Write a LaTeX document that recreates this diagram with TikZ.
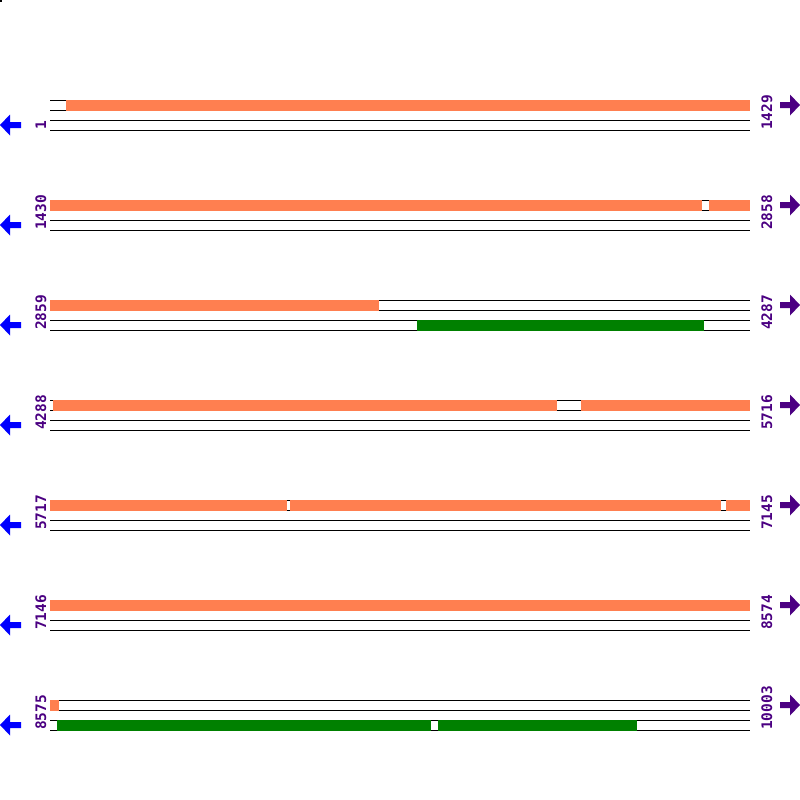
\documentclass[tikz,border=0pt]{standalone}
\usepackage{fontspec}
\setmonofont{DejaVu Sans Mono}
\definecolor{featorange}{HTML}{FF7F50}
\definecolor{featgreen}{HTML}{008000}
\definecolor{numpurple}{HTML}{4B0082}
\definecolor{revblue}{HTML}{0000FF}
\tikzset{
  coordlabel/.style={rotate=90,anchor=base west,inner sep=0pt,text=numpurple,
    font=\ttfamily\bfseries\fontsize{14.5}{15}\selectfont},
  strand/.style={line width=1pt,black}
}
\begin{document}
\begin{tikzpicture}[x=1pt,y=-1pt]
\useasboundingbox (0,0) rectangle (800,800);
\fill[white] (0,0) rectangle (800,800);
\fill[black] (0,0) rectangle (2,2);

% the seven rows of the map
\foreach \y/\from/\to [count=\i] in {100/1/1429,200/1430/2858,300/2859/4287,400/4288/5716,500/5717/7145,600/7146/8574,700/8575/10003}{
  \draw[strand] (50,\y) -- (750,\y);
  \draw[strand] (50,\y+10) -- (750,\y+10);
  \draw[strand] (50,\y+20) -- (750,\y+20);
  \draw[strand] (50,\y+30) -- (750,\y+30);
  \node[coordlabel] (start\i) at (46,\y+30) {\from};
  \node[coordlabel] (end\i) at (772,\y+30) {\to};
  \fill[revblue] (0,\y+25) -- (10,\y+14.5) -- (10,\y+22) -- (21,\y+22)
    -- (21,\y+28) -- (10,\y+28) -- (10,\y+35.5) -- cycle;
  \fill[numpurple] (800,\y+5) -- (790,\y-5.5) -- (790,\y+2) -- (780,\y+2)
    -- (780,\y+8) -- (790,\y+8) -- (790,\y+15.5) -- cycle;
}

% forward features
\fill[featorange] (66,99.5) rectangle (750,110.5);
\fill[featorange] (50,199.5) rectangle (702,210.5);
\fill[featorange] (709,199.5) rectangle (750,210.5);
\fill[featorange] (50,299.5) rectangle (379,310.5);
\fill[featorange] (53,399.5) rectangle (557,410.5);
\fill[featorange] (581,399.5) rectangle (750,410.5);
\fill[featorange] (50,499.5) rectangle (287,510.5);
\fill[featorange] (290,499.5) rectangle (721,510.5);
\fill[featorange] (726,499.5) rectangle (750,510.5);
\fill[featorange] (50,599.5) rectangle (750,610.5);
\fill[featorange] (50,699.5) rectangle (59,710.5);

% reverse features
\fill[featgreen] (417,319.5) rectangle (704,330.5);
\fill[featgreen] (57,719.5) rectangle (431,730.5);
\fill[featgreen] (438,719.5) rectangle (637,730.5);

\end{tikzpicture}
\end{document}
